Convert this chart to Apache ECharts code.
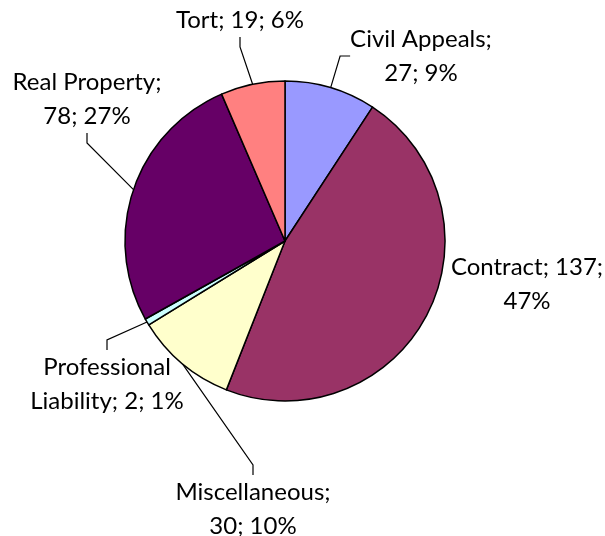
<!DOCTYPE html>
<html><head><meta charset="utf-8">
<script src="https://cdn.jsdelivr.net/npm/echarts@6/dist/echarts.min.js"></script>
<style>html,body{margin:0;padding:0;background:#fff}#c{width:605px;height:536px}</style>
</head><body><div id="c"></div>
<script>
const categories = ['Civil Appeals','Contract','Miscellaneous','Professional Liability','Real Property','Tort'];
const values = [27,137,30,2,78,19];
const colors = ['#9999FF','#993366','#FFFFCC','#CCFFFF','#660066','#FF8080'];
// label centre positions (layout only)
const labelPos = {
  'Civil Appeals':[421,56], 'Contract':[527,284], 'Miscellaneous':[253,509],
  'Professional Liability':[107,384], 'Real Property':[87,99], 'Tort':[240,20]
};
function fmt(p){
  const n=p.name, v=p.value, d=p.percent+'%';
  if(n==='Contract') return n+'; '+v+';\n'+d;
  if(n==='Professional Liability') return 'Professional\nLiability; '+v+'; '+d;
  if(n==='Tort') return n+'; '+v+'; '+d;
  return n+';\n'+v+'; '+d;
}
const chart = echarts.init(document.getElementById('c'));
chart.setOption({
  animation:false,
  series:[{
    type:'pie', center:[285,241], radius:160, startAngle:90, clockwise:true,
    percentPrecision:0,
    data: categories.map((c,i)=>({name:c,value:values[i],itemStyle:{color:colors[i]},
      labelLine:{show:c!=='Contract'}})),
    itemStyle:{borderColor:'#000',borderWidth:1.5},
    label:{show:true,position:'outside',formatter:fmt,color:'#000',fontFamily:'Lato',fontSize:24,lineHeight:34,align:'center',overflow:'none'},
    labelLine:{show:true,length:20,length2:10,lineStyle:{color:'#000',width:1.2}},
    labelLayout:function(p){
      const pos=labelPos[categories[p.dataIndex]];
      return {x:pos[0],y:pos[1],align:'center',verticalAlign:'middle'};
    },
    emphasis:{disabled:true}
  }]
});
</script></body></html>
